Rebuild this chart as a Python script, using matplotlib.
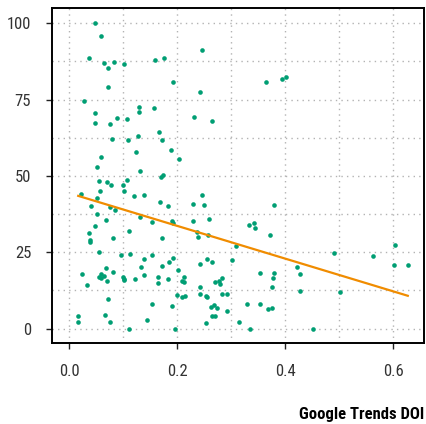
import numpy as np
import matplotlib
matplotlib.use("Agg")
import matplotlib.pyplot as plt
from matplotlib.ticker import MultipleLocator

doi = [0.048, 0.059, 0.037, 0.064, 0.083, 0.073, 0.102, 0.160, 0.175, 0.247,
       0.192, 0.073, 0.028, 0.048, 0.049, 0.075, 0.088, 0.107, 0.129, 0.129,
       0.157, 0.232, 0.242, 0.264, 0.365, 0.395, 0.402, 0.080, 0.109, 0.127,
       0.167, 0.172, 0.189, 0.124, 0.204, 0.059, 0.051, 0.131, 0.174, 0.171,
       0.055, 0.071, 0.077, 0.099, 0.107, 0.101, 0.058, 0.023, 0.051, 0.120,
       0.139, 0.247, 0.041, 0.076, 0.086, 0.052, 0.169, 0.184, 0.131, 0.154,
       0.191, 0.193, 0.229, 0.249, 0.229, 0.049, 0.069, 0.037, 0.111, 0.039,
       0.039, 0.081, 0.172, 0.236, 0.238, 0.257, 0.259, 0.056, 0.096, 0.112,
       0.153, 0.138, 0.193, 0.185, 0.173, 0.243, 0.256, 0.264, 0.069, 0.134,
       0.024, 0.081, 0.201, 0.138, 0.059, 0.064, 0.056, 0.060, 0.070, 0.099,
       0.101, 0.102, 0.123, 0.164, 0.165, 0.183, 0.209, 0.213, 0.212, 0.243,
       0.271, 0.278, 0.280, 0.284, 0.033, 0.073, 0.153, 0.199, 0.209, 0.214,
       0.242, 0.254, 0.256, 0.284, 0.292, 0.191, 0.263, 0.268, 0.274, 0.292,
       0.264, 0.271, 0.067, 0.017, 0.017, 0.076, 0.144, 0.254, 0.111, 0.196,
       0.379, 0.333, 0.343, 0.344, 0.372, 0.309, 0.302, 0.490, 0.562, 0.604,
       0.602, 0.627, 0.422, 0.428, 0.354, 0.379, 0.377, 0.375, 0.428, 0.502,
       0.330, 0.354, 0.369, 0.375, 0.314, 0.335, 0.452]

score = [100.0, 95.9, 88.6, 87.1, 87.4, 85.2, 86.6, 88.1, 88.7, 91.4,
         80.8, 79.1, 74.7, 70.6, 67.5, 66.9, 69.0, 68.7, 72.6, 70.9,
         72.2, 69.3, 77.4, 67.9, 80.7, 81.8, 82.3, 62.2, 61.7, 63.2,
         64.3, 61.7, 58.4, 58.0, 55.7, 56.1, 52.9, 51.6, 50.2, 49.7,
         48.3, 48.0, 47.2, 47.2, 48.7, 45.1, 45.1, 44.2, 42.8, 43.4,
         43.9, 43.8, 40.3, 39.9, 38.7, 37.6, 41.4, 40.0, 36.7, 35.0,
         35.2, 34.5, 40.9, 40.4, 35.2, 33.5, 35.6, 31.3, 31.9, 29.1,
         28.3, 29.7, 29.6, 31.7, 30.0, 30.8, 35.9, 25.2, 24.0, 24.4,
         24.0, 22.8, 23.2, 21.8, 20.6, 21.1, 22.9, 21.8, 20.0, 20.1,
         18.0, 18.7, 19.2, 17.7, 17.8, 17.4, 16.9, 16.6, 15.6, 16.9,
         16.4, 15.9, 16.1, 16.9, 15.0, 16.3, 15.7, 16.8, 15.2, 13.6,
         15.2, 15.5, 14.5, 16.5, 14.3, 9.7, 8.2, 10.9, 10.5, 10.6,
         11.3, 10.7, 10.3, 11.2, 11.3, 7.3, 7.2, 7.8, 6.6, 5.8,
         4.3, 4.3, 4.6, 4.2, 2.1, 2.3, 2.7, 2.0, 0.0, 0.0,
         40.4, 34.0, 34.6, 32.9, 30.6, 27.0, 22.4, 24.9, 23.8, 27.5,
         20.8, 21.0, 20.2, 17.8, 18.2, 18.2, 16.7, 13.8, 12.3, 11.9,
         8.0, 8.1, 6.4, 6.6, 2.3, 0.0, 0.0]

x_ticks = [0.0, 0.2, 0.4, 0.6]
x_tick_labels = ["0.0", "0.2", "0.4", "0.6"]
y_ticks = [0, 25, 50, 75, 100]
y_tick_labels = ["0", "25", "50", "75", "100"]
x_label = "Google Trends DOI"

narrow = ["Liberation Sans Narrow", "Roboto Condensed", "Liberation Sans", "DejaVu Sans"]
plt.rcParams["font.family"] = narrow

x = np.array(doi)
y = np.array(score)
slope, intercept = np.polyfit(x, y, 1)
fx = np.array([x.min(), x.max()])
fy = slope * fx + intercept

fig = plt.figure(figsize=(4.26, 4.24), dpi=100)
ax = fig.add_axes([52 / 426, 1 - 343 / 424, (424 - 52) / 426, (343 - 8) / 424])

ax.xaxis.set_minor_locator(MultipleLocator(0.1))
ax.yaxis.set_minor_locator(MultipleLocator(12.5))
ax.grid(True, which="both", linestyle=(0, (1, 3)), color="#b3b3b3", linewidth=1.0)
ax.set_axisbelow(True)

ax.scatter(x, y, s=11, color="#009E73", linewidths=0, zorder=3)
ax.plot(fx, fy, color="#F08C00", linewidth=1.6, zorder=4)

ax.set_xlim(-0.0315, 0.657)
ax.set_ylim(-4.7, 105)
ax.set_xticks(x_ticks)
ax.set_xticklabels(x_tick_labels)
ax.set_yticks(y_ticks)
ax.set_yticklabels(y_tick_labels)
ax.tick_params(which="major", direction="out", length=4, width=1, pad=11,
               labelsize=12, colors="#222222", labelcolor="#333333")
ax.tick_params(which="minor", length=0)
for sp in ax.spines.values():
    sp.set_linewidth(1.4)
    sp.set_color("black")

fig.text(424 / 426, 1 - 414 / 424, x_label, ha="right", va="center",
         fontsize=12, fontweight="bold", color="black")

fig.savefig("out.png", dpi=100)
